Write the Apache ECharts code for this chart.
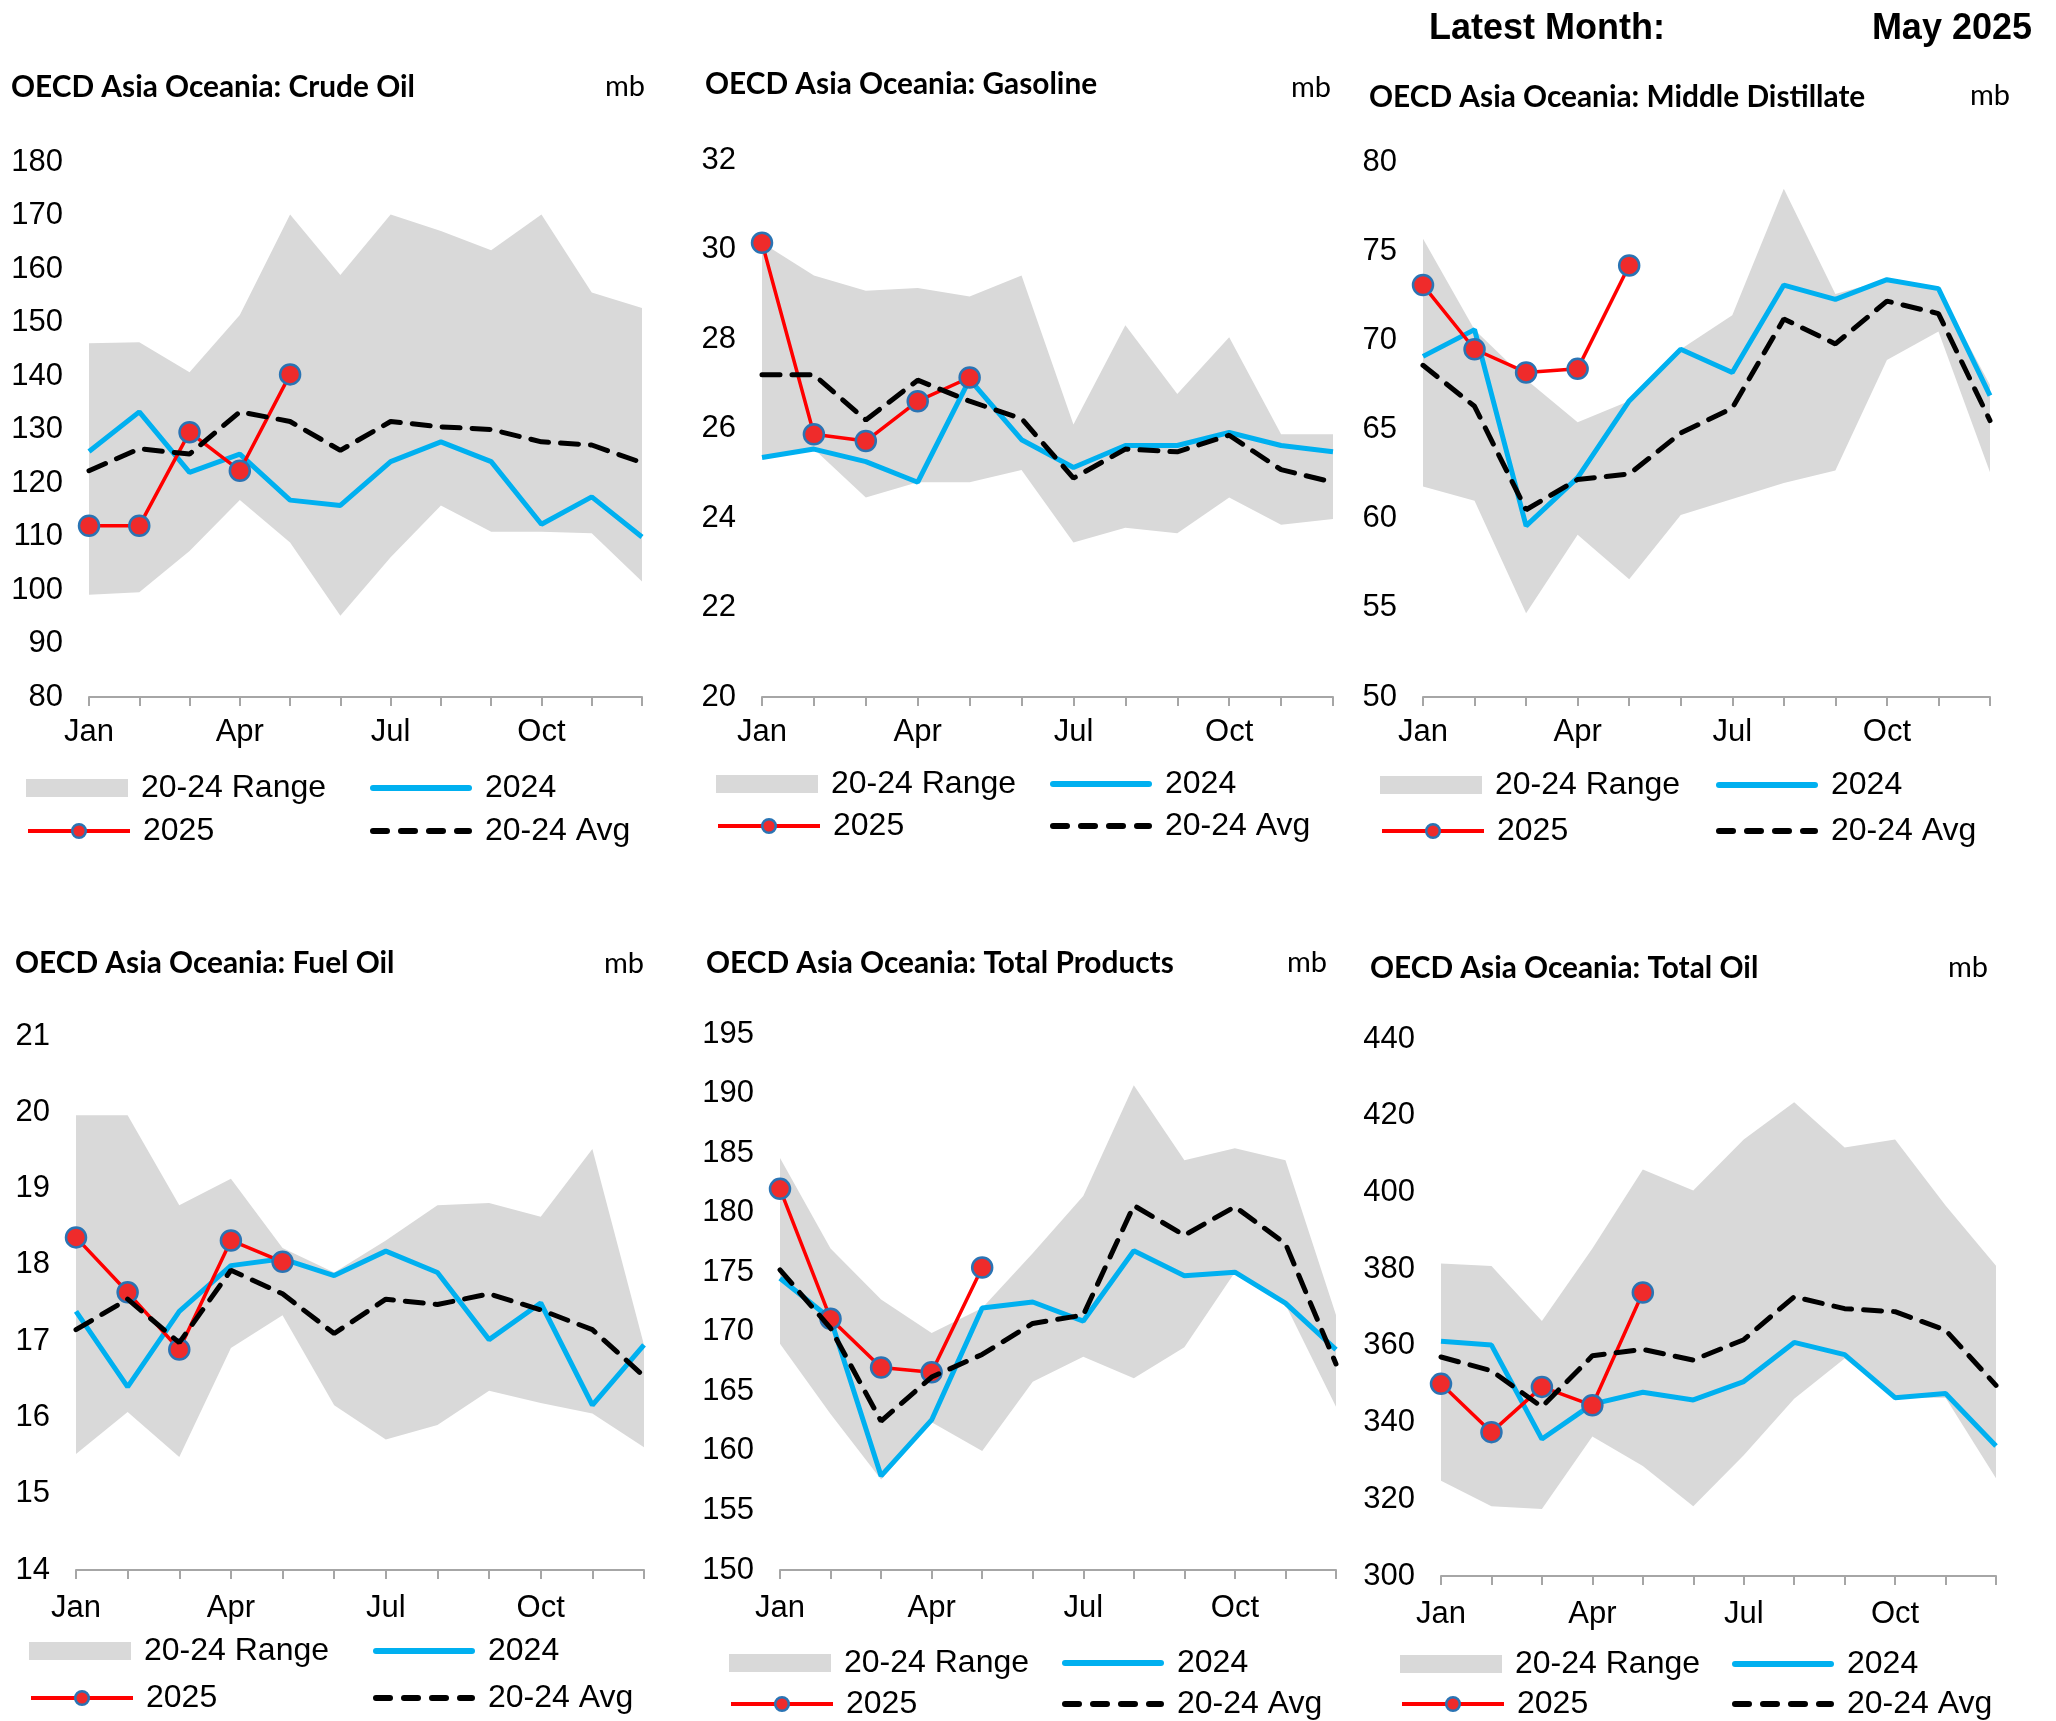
<!DOCTYPE html>
<html>
<head>
<meta charset="utf-8">
<script src="https://cdn.jsdelivr.net/npm/echarts@6/dist/echarts.min.js"></script>
<style>
html,body{margin:0;padding:0;background:#fff;}
#c{width:2056px;height:1721px;}
</style>
</head>
<body>
<div id="c"></div>
<script>
// ---------- DATA ----------
const months = ['Jan','Feb','Mar','Apr','May','Jun','Jul','Aug','Sep','Oct','Nov','Dec'];

const crudeLow  = [99.1, 99.6, 107.3, 116.8, 108.9, 95.2, 106.1, 115.8, 110.9, 110.9, 110.6, 101.6];
const crudeHigh = [146.1, 146.3, 140.7, 151.4, 170.2, 158.9, 170.2, 167.1, 163.5, 170.2, 155.6, 152.7];
const crude2024 = [125.9, 133.3, 122.0, 125.4, 116.8, 115.8, 124.0, 127.7, 124.0, 112.3, 117.4, 109.9];
const crudeAvg  = [122.3, 126.4, 125.4, 133.3, 131.5, 126.1, 131.5, 130.5, 130.0, 127.7, 127.1, 123.8];
const crude2025 = [112.0, 112.0, 129.5, 122.3, 140.3];

const gasLow  = [25.35, 25.54, 24.46, 24.8, 24.8, 25.07, 23.45, 23.78, 23.66, 24.46, 23.85, 23.98];
const gasHigh = [30.15, 29.42, 29.08, 29.14, 28.95, 29.42, 26.09, 28.31, 26.77, 28.04, 25.87, 25.87];
const gas2024 = [25.35, 25.54, 25.26, 24.8, 27.1, 25.75, 25.13, 25.62, 25.62, 25.91, 25.62, 25.48];
const gasAvg  = [27.2, 27.2, 26.19, 27.08, 26.61, 26.22, 24.89, 25.54, 25.48, 25.85, 25.08, 24.8];
const gas2025 = [30.15, 25.87, 25.72, 26.61, 27.14];

const mdLow  = [61.8, 61.0, 54.7, 59.1, 56.6, 60.2, 61.1, 62.0, 62.7, 68.9, 70.5, 62.6];
const mdHigh = [75.7, 70.6, 67.8, 65.4, 66.6, 69.5, 71.4, 78.5, 72.6, 73.4, 72.9, 67.5];
const md2024 = [69.1, 70.6, 59.6, 62.3, 66.6, 69.5, 68.2, 73.1, 72.3, 73.4, 72.9, 66.9];
const mdAvg  = [68.6, 66.3, 60.5, 62.2, 62.5, 64.8, 66.2, 71.2, 69.8, 72.2, 71.5, 65.5];
const md2025 = [73.1, 69.5, 68.2, 68.4, 74.2];

const foLow  = [15.52, 16.07, 15.48, 16.91, 17.34, 16.16, 15.71, 15.9, 16.35, 16.19, 16.05, 15.61];
const foHigh = [19.96, 19.96, 18.78, 19.13, 18.22, 17.9, 18.32, 18.78, 18.81, 18.63, 19.52, 16.95];
const fo2024 = [17.39, 16.4, 17.39, 17.99, 18.08, 17.86, 18.18, 17.9, 17.02, 17.5, 16.16, 16.95];
const foAvg  = [17.15, 17.55, 16.98, 17.93, 17.62, 17.1, 17.55, 17.48, 17.62, 17.41, 17.15, 16.54];
const fo2025 = [18.36, 17.64, 16.89, 18.32, 18.04];

const tpLow  = [169.0, 163.1, 157.6, 162.4, 160.0, 165.8, 167.9, 166.1, 168.7, 175.0, 172.3, 163.7];
const tpHigh = [184.6, 177.0, 172.7, 169.9, 172.0, 176.6, 181.4, 190.7, 184.4, 185.4, 184.4, 171.4];
const tp2024 = [174.5, 171.1, 157.9, 162.6, 172.0, 172.5, 170.9, 176.8, 174.7, 175.0, 172.4, 168.5];
const tpAvg  = [175.2, 170.3, 162.5, 166.2, 168.1, 170.7, 171.4, 180.6, 178.1, 180.5, 177.4, 167.3];
const tp2025 = [182.0, 171.1, 167.0, 166.6, 175.4];

const toLow  = [324.8, 318.2, 317.5, 336.4, 328.7, 318.2, 331.5, 346.2, 356.7, 346.5, 346.5, 325.5];
const toHigh = [381.5, 380.8, 366.5, 385.4, 406.0, 400.5, 413.8, 423.5, 411.7, 413.8, 396.6, 380.9];
const to2024 = [361.2, 360.2, 335.7, 344.8, 347.9, 345.9, 350.7, 360.9, 357.7, 346.5, 347.6, 333.9];
const toAvg  = [357.1, 353.5, 344.1, 357.4, 359.1, 356.3, 361.6, 372.8, 369.7, 368.9, 364.1, 349.7];
const to2025 = [350.1, 337.5, 349.3, 344.5, 373.9];

const titles = ['OECD Asia Oceania: Crude Oil','OECD Asia Oceania: Gasoline','OECD Asia Oceania: Middle Distillate',
                'OECD Asia Oceania: Fuel Oil','OECD Asia Oceania: Total Products','OECD Asia Oceania: Total Oil'];
const yMin = [80, 20, 50, 14, 150, 300];
const yMax = [180, 32, 80, 21, 195, 440];
const yStep = [10, 2, 5, 1, 5, 20];
const legendNames = ['20-24 Range', '2024', '2025', '20-24 Avg'];
const latestLabel = 'Latest Month:';
const latestMonth = 'May 2025';

const panels = [
  {low: crudeLow, high: crudeHigh, y24: crude2024, avg: crudeAvg, y25: crude2025},
  {low: gasLow, high: gasHigh, y24: gas2024, avg: gasAvg, y25: gas2025},
  {low: mdLow, high: mdHigh, y24: md2024, avg: mdAvg, y25: md2025},
  {low: foLow, high: foHigh, y24: fo2024, avg: foAvg, y25: fo2025},
  {low: tpLow, high: tpHigh, y24: tp2024, avg: tpAvg, y25: tp2025},
  {low: toLow, high: toHigh, y24: to2024, avg: toAvg, y25: to2025}
];

// ---------- LAYOUT ----------
const layout = [
  {gl: 89,   gw: 553, gt: 162,  gh: 535, lm: 20, tx: 11,   ty: 87,  mx: 645,  my: 87,  lx1: 26,   lx2: 370,  ly1: 788,  ly2: 831},
  {gl: 762,  gw: 571, gt: 160,  gh: 537, lm: 20, tx: 705,  ty: 84,  mx: 1331, my: 88,  lx1: 716,  lx2: 1050, ly1: 784,  ly2: 826},
  {gl: 1423, gw: 567, gt: 162,  gh: 535, lm: 20, tx: 1369, ty: 97,  mx: 2010, my: 96,  lx1: 1380, lx2: 1716, ly1: 785,  ly2: 831},
  {gl: 76,   gw: 568, gt: 1036, gh: 534, lm: 23, tx: 15,   ty: 963, mx: 644,  my: 964, lx1: 29,   lx2: 373,  ly1: 1651, ly2: 1698},
  {gl: 780,  gw: 556, gt: 1034, gh: 536, lm: 23, tx: 706,  ty: 963, mx: 1327, my: 963, lx1: 729,  lx2: 1062, ly1: 1663, ly2: 1704},
  {gl: 1441, gw: 555, gt: 1039, gh: 537, lm: 23, tx: 1370, ty: 968, mx: 1988, my: 968, lx1: 1400, lx2: 1732, ly1: 1664, ly2: 1704}
];

const AX = '#a6a6a6';
const FONT = "'Liberation Sans', Arial, sans-serif";
const BAND = '#d9d9d9';
const BLUE = '#00b0f0';
const RED = '#ff0000';

const grid = [], xAxis = [], yAxis = [], series = [], legend = [], graphic = [];

panels.forEach((p, i) => {
  const L = layout[i];
  grid.push({left: L.gl, top: L.gt, width: L.gw, height: L.gh});
  xAxis.push({
    type: 'category', gridIndex: i, data: months, boundaryGap: false,
    axisLine: {show: true, lineStyle: {color: AX, width: 2}},
    axisTick: {show: true, interval: 0, length: 9, lineStyle: {color: AX, width: 2}},
    axisLabel: {interval: 2, color: '#000', fontSize: 31, fontFamily: FONT, margin: L.lm},
    splitLine: {show: false}
  });
  yAxis.push({
    type: 'value', gridIndex: i, min: yMin[i], max: yMax[i], interval: yStep[i],
    axisLine: {show: false}, axisTick: {show: false}, splitLine: {show: false},
    axisLabel: {color: '#000', fontSize: 31, fontFamily: FONT, margin: 26}
  });
  const stackId = 'range' + i;
  series.push({
    name: 'base', type: 'line', xAxisIndex: i, yAxisIndex: i, stack: stackId,
    data: p.low, symbol: 'none', lineStyle: {opacity: 0, width: 0}, silent: true, z: 1
  });
  series.push({
    name: legendNames[0], type: 'line', xAxisIndex: i, yAxisIndex: i, stack: stackId,
    data: p.high.map((v, k) => +(v - p.low[k]).toFixed(3)),
    symbol: 'none', lineStyle: {opacity: 0, width: 0},
    itemStyle: {color: BAND}, areaStyle: {color: BAND, opacity: 1}, silent: true, z: 1
  });
  series.push({
    name: legendNames[1], type: 'line', xAxisIndex: i, yAxisIndex: i, data: p.y24,
    symbol: 'none', itemStyle: {color: BLUE}, lineStyle: {color: BLUE, width: 5}, z: 3
  });
  series.push({
    name: legendNames[2], type: 'line', xAxisIndex: i, yAxisIndex: i, data: p.y25,
    symbol: 'circle', symbolSize: 20, showSymbol: true,
    itemStyle: {color: '#ef2b2b', borderColor: '#2a74b4', borderWidth: 2.5},
    lineStyle: {color: RED, width: 3.5}, z: 4
  });
  series.push({
    name: legendNames[3], type: 'line', xAxisIndex: i, yAxisIndex: i, data: p.avg,
    symbol: 'none', itemStyle: {color: '#000'},
    lineStyle: {color: '#000', width: 5, type: [18, 12], cap: 'round'}, z: 5
  });

  const lt = {fontSize: 32, fontFamily: FONT, color: '#000', lineHeight: 36, padding: [0, 0, 0, 8]};
  legend.push({left: L.lx1, top: L.ly1 - 18, padding: 0, selectedMode: false, itemWidth: 102, itemHeight: 18, textStyle: lt,
    data: [{name: legendNames[0], icon: 'rect', itemStyle: {color: BAND, borderWidth: 0}}]});
  legend.push({left: L.lx2, top: L.ly1 - 18, padding: 0, selectedMode: false, itemWidth: 102, itemHeight: 6, textStyle: lt,
    data: [{name: legendNames[1], icon: 'path://M3,0H99A3,3 0 0 1 99,6H3A3,3 0 0 1 3,0Z', itemStyle: {color: BLUE, borderWidth: 0}}]});
  legend.push({left: L.lx1, top: L.ly2 - 18, padding: 0, selectedMode: false, itemWidth: 102, itemHeight: 17, textStyle: lt,
    lineStyle: {width: 4, color: RED},
    itemStyle: {color: '#ef2b2b', borderColor: '#2a74b4', borderWidth: 2.5},
    data: [legendNames[2]]});
  legend.push({left: L.lx2, top: L.ly2 - 18, padding: 0, selectedMode: false, itemWidth: 102, itemHeight: 6, textStyle: lt,
    data: [{name: legendNames[3], icon: 'path://M3,0H17A3,3 0 0 1 17,6H3A3,3 0 0 1 3,0Z M31,0H45A3,3 0 0 1 45,6H31A3,3 0 0 1 31,0Z M59,0H73A3,3 0 0 1 73,6H59A3,3 0 0 1 59,0Z M87,0H99A3,3 0 0 1 99,6H87A3,3 0 0 1 87,0Z', itemStyle: {color: '#000', borderWidth: 0}}]});

  graphic.push({type: 'text', x: L.tx, y: L.ty, style: {text: titles[i], fill: '#000',
    font: "bold 29.8px Lato, 'Liberation Sans', sans-serif", align: 'left', verticalAlign: 'middle'}});
  graphic.push({type: 'text', x: L.mx, y: L.my, style: {text: 'mb', fill: '#000',
    font: "29px Lato, 'Liberation Sans', sans-serif", align: 'right', verticalAlign: 'middle'}});
});

graphic.push({type: 'text', x: 1429, y: 29, style: {text: latestLabel, fill: '#000',
  font: "bold 36px 'Liberation Sans', Arial, sans-serif", align: 'left', verticalAlign: 'middle'}});
graphic.push({type: 'text', x: 2032, y: 29, style: {text: latestMonth, fill: '#000',
  font: "bold 36px 'Liberation Sans', Arial, sans-serif", align: 'right', verticalAlign: 'middle'}});

const chart = echarts.init(document.getElementById('c'), null, {renderer: 'canvas'});
chart.setOption({
  animation: false,
  backgroundColor: '#fff',
  grid, xAxis, yAxis, series, legend, graphic
});
</script>
</body>
</html>
